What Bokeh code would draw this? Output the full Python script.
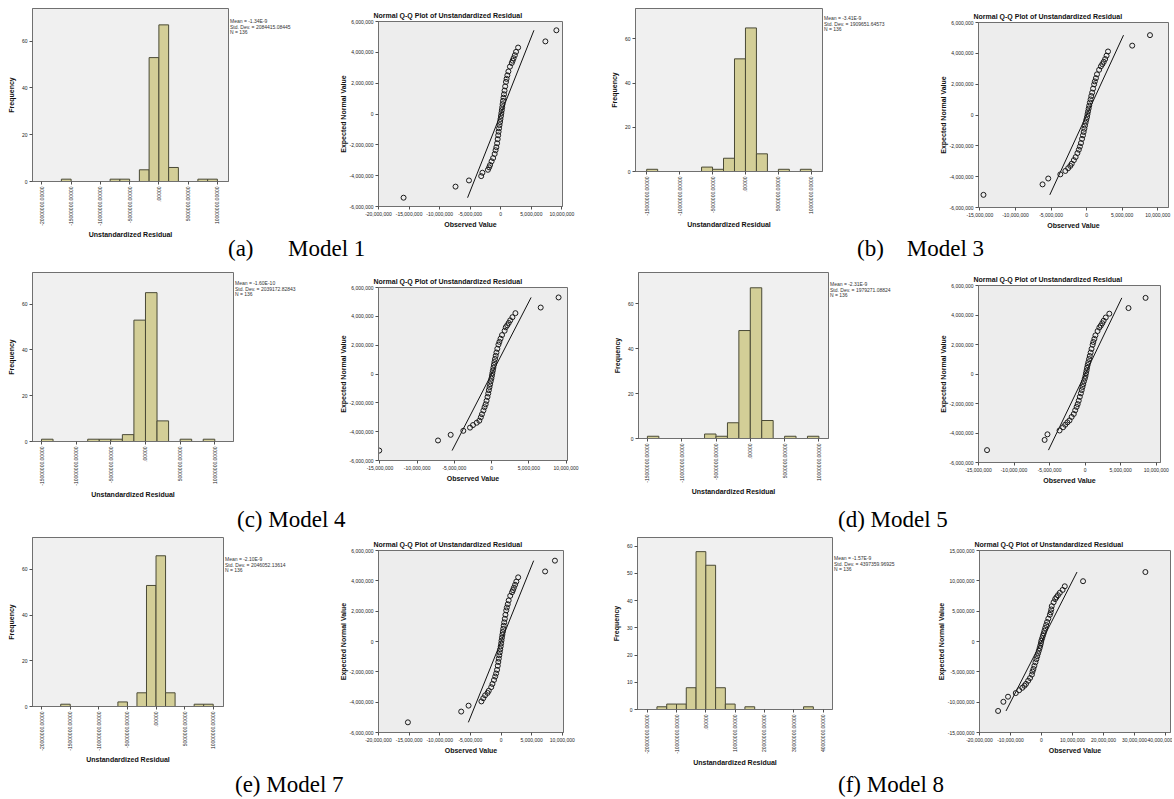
import math
from bokeh.plotting import figure
from bokeh.models import Range1d, FixedTicker, Spacer, Div, NumeralTickFormatter
from bokeh.layouts import row, column
from bokeh.embed import file_html
from bokeh.resources import INLINE

M = 1e6  # values below are in millions

# ---------------- Histograms (bin left edge in millions, counts) ----------------
hist_a_left = [-16.667, -8.333, -6.667, -3.333, -1.667, 0.0, 1.667, 6.667, 8.333]
hist_a_count = [1, 1, 1, 5, 53, 67, 6, 1, 1]
hist_b_left = [-15.0, -6.667, -5.0, -3.333, -1.667, 0.0, 1.667, 5.0, 8.333]
hist_b_count = [1, 2, 1, 6, 51, 65, 8, 1, 1]
hist_c_left = [-15.0, -8.333, -6.667, -5.0, -3.333, -1.667, 0.0, 1.667, 5.0, 8.333]
hist_c_count = [1, 1, 1, 1, 3, 53, 65, 9, 1, 1]
hist_d_left = [-15.0, -6.667, -5.0, -3.333, -1.667, 0.0, 1.667, 5.0, 8.333]
hist_d_count = [1, 2, 1, 7, 48, 67, 8, 1, 1]
hist_e_left = [-16.667, -6.667, -3.333, -1.667, 0.0, 1.667, 6.667, 8.333]
hist_e_count = [1, 2, 6, 53, 66, 6, 1, 1]
hist_f_left = [-16.667, -13.333, -10.0, -6.667, -3.333, 0.0, 3.333, 6.667, 13.333, 33.333]
hist_f_count = [1, 2, 2, 8, 58, 53, 8, 2, 1, 1]
bin_width_small = 1.6667
bin_width_large = 3.3333

ticks_20_10 = [-20, -15, -10, -5, 0, 5, 10]
labels_20_10 = ["-20000000.00000", "-15000000.00000", "-10000000.00000", "-5000000.00000",
                ".00000", "5000000.00000", "10000000.00000"]
ticks_15_10 = [-15, -10, -5, 0, 5, 10]
labels_15_10 = ["-15000000.00000", "-10000000.00000", "-5000000.00000",
                ".00000", "5000000.00000", "10000000.00000"]
ticks_20_40 = [-20, -10, 0, 10, 20, 30, 40]
labels_20_40 = ["-20000000.00000", "-10000000.00000", ".00000", "10000000.00000",
                "20000000.00000", "30000000.00000", "40000000.00000"]
freq_ticks = [0, 20, 40, 60]
freq_ticks_f = [0, 10, 20, 30, 40, 50, 60]

stats_a = ["Mean = -1.34E-9", "Std. Dev. = 2084415.08445", "N = 136"]
stats_b = ["Mean = -3.41E-9", "Std. Dev. = 1909651.64573", "N = 136"]
stats_c = ["Mean = -1.60E-10", "Std. Dev. = 2039172.82843", "N = 136"]
stats_d = ["Mean = -2.31E-9", "Std. Dev. = 1979271.08824", "N = 136"]
stats_e = ["Mean = -2.10E-9", "Std. Dev. = 2046052.13614", "N = 136"]
stats_f = ["Mean = -1.57E-9", "Std. Dev. = 4397359.96925", "N = 136"]

# ---------------- Q-Q plots (observed value, expected normal value; millions) ----------------
qq_a_obs = [-15.9, -7.4, -5.2, -3.2, -3.0, -2.1, -1.9, -1.75, -1.5, -1.25, -1.0, -0.85, -0.72, -0.6,
            -0.5, -0.42, -0.35, -0.28, -0.2, -0.12, -0.05, 0.03, 0.1, 0.17, 0.24, 0.3, 0.37, 0.45,
            0.53, 0.62, 0.72, 0.85, 0.95, 1.08, 1.25, 1.5, 1.8, 1.95, 2.1, 2.3, 2.5, 2.84, 7.3, 9.1]
qq_a_exp = [-5.43, -4.71, -4.31, -4.03, -3.81, -3.62, -3.46, -3.31, -3.07, -2.86, -2.59, -2.35, -2.15,
            -1.90, -1.63, -1.38, -1.15, -0.93, -0.72, -0.52, -0.33, -0.13, 0.06, 0.25, 0.44, 0.64,
            0.85, 1.06, 1.28, 1.52, 1.79, 2.08, 2.28, 2.51, 2.76, 3.07, 3.31, 3.46, 3.62, 3.81, 4.03,
            4.31, 4.71, 5.43]
qq_b_obs = [-14.5, -6.2, -5.4, -3.7, -3.0, -2.6, -2.3, -2.1, -1.8, -1.55, -1.3, -1.1, -0.95, -0.8,
            -0.65, -0.52, -0.42, -0.32, -0.23, -0.15, -0.05, 0.05, 0.12, 0.2, 0.28, 0.36, 0.45, 0.55,
            0.65, 0.77, 0.9, 1.05, 1.15, 1.3, 1.45, 1.75, 2.0, 2.2, 2.4, 2.6, 2.8, 3.0, 6.4, 8.9]
qq_b_exp = [-5.18, -4.50, -4.12, -3.85, -3.63, -3.45, -3.30, -3.16, -2.93, -2.73, -2.47, -2.25, -2.05,
            -1.82, -1.55, -1.32, -1.10, -0.89, -0.69, -0.50, -0.31, -0.13, 0.06, 0.24, 0.42, 0.61,
            0.81, 1.01, 1.23, 1.45, 1.71, 1.99, 2.18, 2.39, 2.64, 2.93, 3.16, 3.30, 3.45, 3.63, 3.85,
            4.12, 4.50, 5.18]
qq_c_obs = [-15.1, -7.2, -5.5, -3.8, -2.9, -2.5, -2.0, -1.65, -1.45, -1.3, -1.1, -0.95, -0.8, -0.68,
            -0.55, -0.45, -0.37, -0.28, -0.2, -0.12, -0.03, 0.04, 0.1, 0.17, 0.24, 0.31, 0.38, 0.46,
            0.55, 0.65, 0.77, 0.92, 1.05, 1.2, 1.4, 1.75, 1.9, 2.1, 2.3, 2.5, 2.8, 3.2, 6.6, 9.0]
qq_c_exp = [-5.31, -4.61, -4.22, -3.94, -3.72, -3.54, -3.38, -3.24, -3.00, -2.79, -2.53, -2.30, -2.10,
            -1.86, -1.59, -1.35, -1.12, -0.91, -0.71, -0.51, -0.32, -0.13, 0.06, 0.24, 0.43, 0.63,
            0.83, 1.04, 1.26, 1.49, 1.75, 2.04, 2.23, 2.45, 2.70, 3.00, 3.24, 3.38, 3.54, 3.72, 3.94,
            4.22, 4.61, 5.31]
qq_d_obs = [-13.8, -5.7, -5.3, -3.6, -3.1, -2.8, -2.5, -2.2, -1.9, -1.6, -1.4, -1.2, -1.05, -0.9,
            -0.75, -0.6, -0.48, -0.37, -0.27, -0.17, -0.05, 0.05, 0.12, 0.2, 0.27, 0.35, 0.45, 0.55,
            0.65, 0.77, 0.9, 1.05, 1.15, 1.3, 1.45, 1.75, 2.0, 2.2, 2.4, 2.6, 2.9, 3.4, 6.1, 8.5]
qq_d_exp = [-5.16, -4.47, -4.09, -3.83, -3.61, -3.44, -3.28, -3.15, -2.91, -2.71, -2.46, -2.23, -2.04,
            -1.81, -1.55, -1.31, -1.09, -0.88, -0.69, -0.50, -0.31, -0.13, 0.06, 0.24, 0.42, 0.61,
            0.80, 1.01, 1.22, 1.45, 1.70, 1.98, 2.17, 2.38, 2.62, 2.91, 3.15, 3.28, 3.44, 3.61, 3.83,
            4.09, 4.47, 5.16]
qq_e_obs = [-15.2, -6.5, -5.3, -3.2, -2.9, -2.6, -2.2, -2.0, -1.6, -1.4, -1.15, -0.95, -0.8, -0.65,
            -0.53, -0.44, -0.36, -0.28, -0.2, -0.13, -0.05, 0.02, 0.08, 0.15, 0.22, 0.29, 0.36, 0.44,
            0.52, 0.62, 0.72, 0.85, 0.95, 1.1, 1.25, 1.5, 1.8, 1.95, 2.1, 2.3, 2.5, 2.8, 7.2, 8.8]
qq_e_exp = [-5.33, -4.62, -4.23, -3.95, -3.74, -3.55, -3.39, -3.25, -3.01, -2.80, -2.54, -2.31, -2.11,
            -1.87, -1.60, -1.35, -1.13, -0.91, -0.71, -0.51, -0.32, -0.13, 0.06, 0.25, 0.44, 0.63,
            0.83, 1.04, 1.26, 1.50, 1.76, 2.05, 2.24, 2.46, 2.71, 3.01, 3.25, 3.39, 3.55, 3.74, 3.95,
            4.23, 4.62, 5.33]
qq_f_obs = [-14.0, -12.3, -10.8, -8.3, -7.2, -6.2, -5.5, -5.0, -4.3, -3.7, -3.1, -2.9, -2.6, -2.3,
            -1.95, -1.65, -1.38, -1.12, -0.87, -0.62, -0.4, -0.2, -0.05, 0.2, 0.45, 0.7, 0.95, 1.2,
            1.5, 1.8, 2.2, 2.7, 2.95, 3.15, 3.3, 3.9, 4.4, 4.8, 5.3, 5.9, 6.8, 7.5, 13.4, 33.5]
qq_f_exp = [-11.45, -9.94, -9.10, -8.50, -8.03, -7.63, -7.29, -6.99, -6.47, -6.02, -5.46, -4.96, -4.53,
            -4.01, -3.43, -2.91, -2.42, -1.97, -1.53, -1.10, -0.69, -0.28, 0.12, 0.53, 0.94, 1.35,
            1.79, 2.23, 2.71, 3.21, 3.77, 4.40, 4.81, 5.29, 5.83, 6.47, 6.99, 7.29, 7.63, 8.03, 8.50,
            9.10, 9.94, 11.45]

qq_ticks_20_10 = [-20, -15, -10, -5, 0, 5, 10]
qq_ticks_15_10 = [-15, -10, -5, 0, 5, 10]
qq_ticks_20_40 = [-20, -10, 0, 10, 20, 30, 40]
qq_yticks_6 = [-6, -4, -2, 0, 2, 4, 6]
qq_yticks_15 = [-15, -10, -5, 0, 5, 10, 15]

captions = ["(a)" + "&nbsp;" * 6 + "Model 1", "(b)" + "&nbsp;" * 4 + "Model 3", "(c) Model 4",
            "(d) Model 5", "(e) Model 7", "(f) Model 8"]

SANS = "Liberation Sans"
SERIF = "Liberation Serif"


def style_axes(p):
    p.background_fill_color = "#F0F0F0"
    p.border_fill_color = "white"
    p.outline_line_color = "#707070"
    p.xgrid.visible = False
    p.ygrid.visible = False
    for ax in (p.xaxis[0], p.yaxis[0]):
        ax.axis_line_color = "#707070"
        ax.major_tick_line_color = "#505050"
        ax.minor_tick_line_color = None
        ax.major_tick_out = 3
        ax.major_tick_in = 0
        ax.major_label_text_font = SANS
        ax.major_label_text_font_size = "5px"
        ax.major_label_text_color = "#222222"
        ax.major_label_standoff = 2
        ax.axis_label_text_font = SANS
        ax.axis_label_text_font_style = "bold"
        ax.axis_label_text_font_size = "7px"
        ax.axis_label_text_color = "#111111"


def make_hist(left, count, width, xr, yr, xticks, xlabels, yticks, stats,
              col_w, top, H, bl, frame_w, bt, bb, stats_top):
    W = bl + frame_w + 2
    p = figure(width=W, height=H, x_range=Range1d(xr[0] * M, xr[1] * M), y_range=Range1d(yr[0], yr[1]),
               output_backend="svg", toolbar_location=None,
               min_border_left=bl, min_border_right=2, min_border_top=bt, min_border_bottom=bb)
    p.quad(left=[v * M for v in left], right=[(v + width) * M for v in left],
           bottom=0, top=count, fill_color="#D3CE97", line_color="#4a4a36", line_width=1)
    style_axes(p)
    p.xaxis.ticker = FixedTicker(ticks=[t * M for t in xticks])
    p.xaxis.major_label_overrides = {t * M: s for t, s in zip(xticks, xlabels)}
    p.xaxis.major_label_orientation = math.pi / 2
    p.xaxis.axis_label = "Unstandardized Residual"
    p.xaxis.axis_label_standoff = 2
    p.yaxis.ticker = FixedTicker(ticks=yticks)
    p.yaxis.axis_label = "Frequency"
    p.yaxis.axis_label_standoff = 4
    st = {"font-family": SANS, "font-size": "5px", "line-height": "5.5px", "color": "#333333",
          "white-space": "nowrap"}
    d = Div(text="<br>".join(stats), width=col_w - W, height=20, styles=st, margin=0)
    left_col = column(Spacer(width=W, height=top), p)
    right_col = column(Spacer(width=col_w - W, height=stats_top), d)
    return row(left_col, right_col)


def make_qq(obs, exp, xr, yr, xticks, yticks, top, W, H, bl, frame_w, bt, bb):
    p = figure(width=W, height=H, x_range=Range1d(xr[0] * M, xr[1] * M),
               y_range=Range1d(yr[0] * M, yr[1] * M),
               output_backend="svg", toolbar_location=None,
               title="Normal Q-Q Plot of Unstandardized Residual",
               min_border_left=bl, min_border_right=W - bl - frame_w,
               min_border_top=bt, min_border_bottom=bb)
    p.title.text_font = SANS
    p.title.text_font_size = "7px"
    p.title.text_font_style = "bold"
    p.title.text_color = "#111111"
    p.title.align = "left"
    p.title.offset = -5
    p.title.standoff = 6
    style_axes(p)
    p.background_fill_color = "#EDEDED"
    p.line([exp[0] * M, exp[-1] * M], [exp[0] * M, exp[-1] * M], line_color="#111111", line_width=1)
    p.scatter([v * M for v in obs], [v * M for v in exp], marker="circle", size=5,
              fill_color=None, line_color="#1a1a1a", line_width=1.0)
    p.xaxis.ticker = FixedTicker(ticks=[t * M for t in xticks])
    p.yaxis.ticker = FixedTicker(ticks=[t * M for t in yticks])
    p.xaxis.formatter = NumeralTickFormatter(format="0,0")
    p.yaxis.formatter = NumeralTickFormatter(format="0,0")
    p.xaxis.axis_label = "Observed Value"
    p.yaxis.axis_label = "Expected Normal Value"
    p.xaxis.axis_label_standoff = 2
    p.yaxis.axis_label_standoff = 0
    return column(Spacer(width=W, height=top), p)


def caption_row(x1, t1, x2, t2, h, pad=0):
    st = {"font-family": SERIF, "font-size": "23px", "line-height": "%dpx" % h,
          "white-space": "nowrap", "color": "#000000"}
    d1 = Div(text=t1, width=160, height=h, styles=st, margin=0)
    d2 = Div(text=t2, width=160, height=h, styles=st, margin=0)
    r = row(Spacer(width=x1, height=h), d1, Spacer(width=x2 - x1 - 160, height=h), d2)
    if pad:
        return column(Spacer(width=10, height=pad), r)
    return r


# ---------------- Row 1 ----------------
h_a = make_hist(hist_a_left, hist_a_count, bin_width_small, (-21.6, 11.9), (0, 74), ticks_20_10,
                labels_20_10, freq_ticks, stats_a, 306, 7, 233, 32, 196, 1, 57, 19)
q_a = make_qq(qq_a_obs, qq_a_exp, (-20, 10.1), (-6, 6), qq_ticks_20_10, qq_yticks_6,
              3, 274, 237, 72, 184, 18, 34)
h_b = make_hist(hist_b_left, hist_b_count, bin_width_small, (-16.7, 11.7), (0, 73.8), ticks_15_10,
                labels_15_10, freq_ticks, stats_b, 320, 7, 223, 55, 187, 1, 57, 16)
q_b = make_qq(qq_b_obs, qq_b_exp, (-15.2, 11.5), (-6, 6), qq_ticks_15_10, qq_yticks_6,
              4, 272, 237, 78, 190, 18, 34)
r1 = row(h_a, q_a, h_b, q_b)
c1 = caption_row(228, captions[0], 857, captions[1], 16)

# ---------------- Row 2 ----------------
h_c = make_hist(hist_c_left, hist_c_count, bin_width_small, (-16.3, 12.7), (0, 73.8), ticks_15_10,
                labels_15_10, freq_ticks, stats_c, 306, 14, 229, 32, 201, 1, 57, 24)
q_c = make_qq(qq_c_obs, qq_c_exp, (-15.2, 10.2), (-6, 6), qq_ticks_15_10, qq_yticks_6,
              12, 274, 225, 72, 189, 18, 34)
h_d = make_hist(hist_d_left, hist_d_count, bin_width_small, (-16.3, 11.4), (0, 73.8), ticks_15_10,
                labels_15_10, freq_ticks, stats_d, 320, 14, 226, 58, 190, 1, 57, 25)
q_d = make_qq(qq_d_obs, qq_d_exp, (-15, 10.6), (-6, 6), qq_ticks_15_10, qq_yticks_6,
              10, 272, 229, 78, 182, 18, 34)
r2 = row(h_c, q_c, h_d, q_d)
c2 = caption_row(237, captions[2], 838, captions[3], 20, pad=10)

# ---------------- Row 3 ----------------
h_e = make_hist(hist_e_left, hist_e_count, bin_width_small, (-21.6, 11.8), (0, 74), ticks_20_10,
                labels_20_10, freq_ticks, stats_e, 306, 6, 229, 32, 191, 1, 57, 27)
q_e = make_qq(qq_e_obs, qq_e_exp, (-20, 10.2), (-6, 6), qq_ticks_20_10, qq_yticks_6,
              2, 274, 234, 72, 185, 18, 34)
h_f = make_hist(hist_f_left, hist_f_count, bin_width_large, (-23.3, 43.2), (0, 63.2), ticks_20_40,
                labels_20_40, freq_ticks_f, stats_f, 320, 6, 232, 57, 195, 1, 57, 26)
q_f = make_qq(qq_f_obs, qq_f_exp, (-20, 41.6), (-15, 15), qq_ticks_20_40, qq_yticks_15,
              2, 272, 234, 79, 191, 18, 34)
r3 = row(h_e, q_e, h_f, q_f)
c3 = caption_row(235, captions[4], 838, captions[5], 20, pad=7)

p = column(r1, c1, r2, c2, r3, c3)

open("out.html", "w").write(file_html(p, INLINE))
